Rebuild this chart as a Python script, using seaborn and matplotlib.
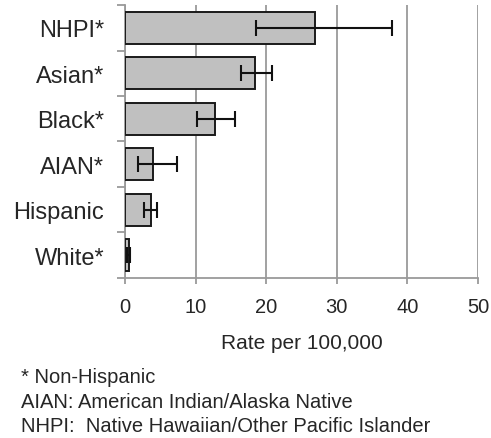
import numpy as np
import pandas as pd
import matplotlib
matplotlib.use("Agg")
import matplotlib.pyplot as plt
import seaborn as sns

# values (rate per 100,000, with CI bounds)
groups = ["NHPI*", "Asian*", "Black*", "AIAN*", "Hispanic", "White*"]
rates = [26.9, 18.4, 12.7, 4.0, 3.7, 0.5]
ci_low = [18.6, 16.4, 10.2, 1.9, 2.7, 0.3]
ci_high = [37.8, 20.8, 15.6, 7.4, 4.6, 0.7]
x_ticks = [0, 10, 20, 30, 40, 50]
footnotes = [
    "* Non-Hispanic",
    "AIAN: American Indian/Alaska Native",
    "NHPI:  Native Hawaiian/Other Pacific Islander",
]

df = pd.DataFrame({"group": groups, "rate": rates})

sns.set_style("white")
plt.rcParams["font.family"] = ["Liberation Sans", "DejaVu Sans"]

fig = plt.figure(figsize=(4.91, 4.39), dpi=100)
ax = fig.add_axes([0.2546, 0.3645, 0.719, 0.6218])

sns.barplot(data=df, x="rate", y="group", orient="h", color="#c0c0c0",
            edgecolor="#1a1a1a", linewidth=1.4, width=0.7, errorbar=None,
            saturation=1, ax=ax, zorder=3)

pos = np.arange(len(groups))
xerr = [np.array(rates) - np.array(ci_low), np.array(ci_high) - np.array(rates)]
ax.errorbar(rates, pos, xerr=xerr, fmt="none", ecolor="#111111",
            elinewidth=1.5, capsize=6, capthick=1.5, zorder=4)

ax.set_xlim(0, 50)
ax.set_ylim(len(groups) - 0.5, -0.5)
ax.set_xticks(x_ticks)
ax.set_xticklabels([str(t) for t in x_ticks], fontsize=14.5)
ax.xaxis.grid(True, color="#9a9a9a", linewidth=1.3, zorder=0)
ax.yaxis.grid(False)

ax.set_yticks(pos)
ax.set_yticklabels(groups, fontsize=17)
ax.set_yticks(np.arange(-0.5, len(groups)), minor=True)
ax.tick_params(axis="y", which="major", length=0, pad=15)
ax.tick_params(axis="y", which="minor", length=6, width=1.3, color="#9a9a9a", left=True)
ax.tick_params(axis="x", length=4, width=1.3, color="#9a9a9a", bottom=True, pad=10)

for s in ["top", "right"]:
    ax.spines[s].set_visible(False)
for s in ["left", "bottom"]:
    ax.spines[s].set_color("#9a9a9a")
    ax.spines[s].set_linewidth(1.3)

ax.set_ylabel("")
ax.set_xlabel("Rate per 100,000", fontsize=15, labelpad=12)

for i, line in enumerate(footnotes):
    fig.text(0.043, 1 - (378 + 24.5 * i) / 439, line, fontsize=14.5,
             ha="left", va="center")

fig.savefig("out.png", dpi=100)
